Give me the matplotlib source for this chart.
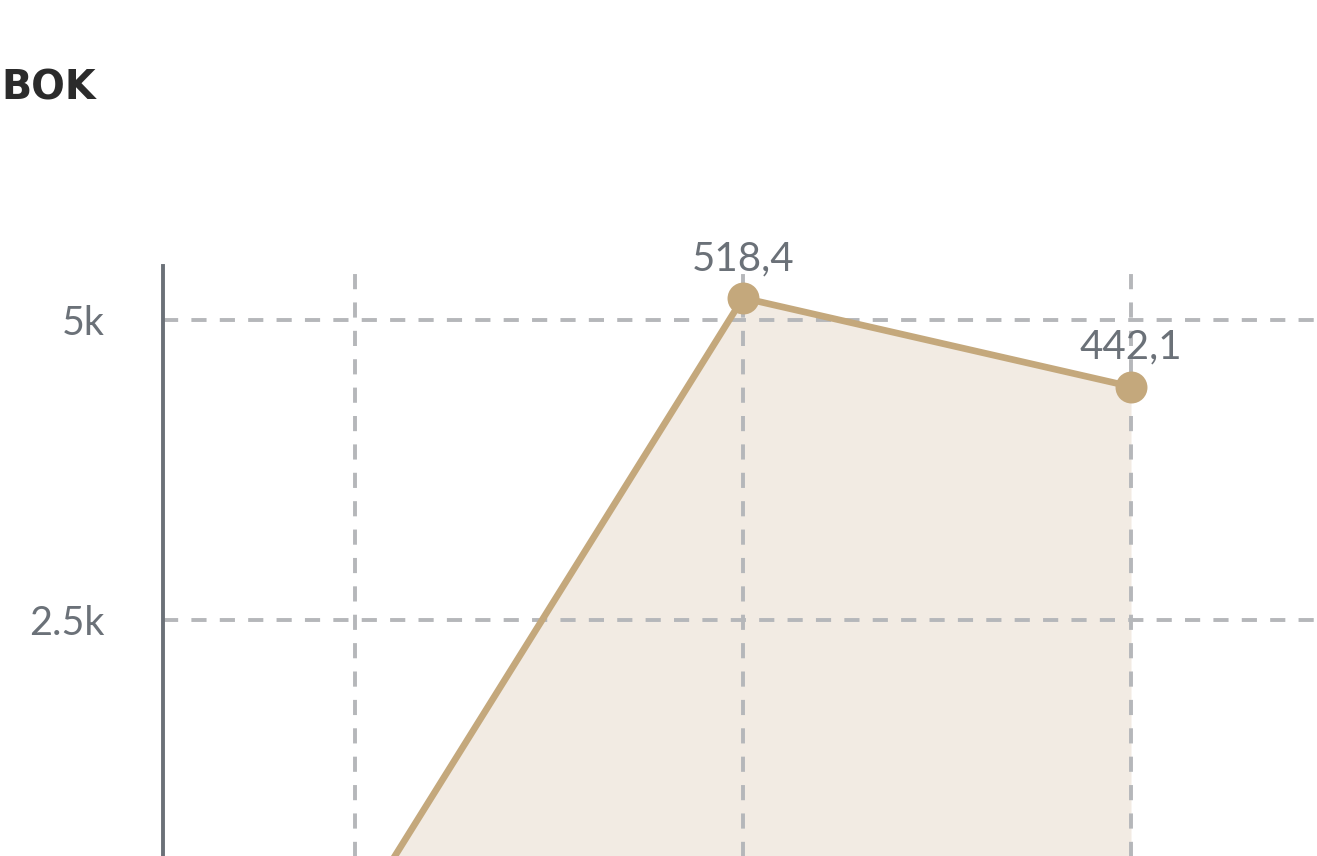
import matplotlib
matplotlib.use("Agg")
import matplotlib.pyplot as plt

# data (visible part of a cropped chart; first point's label is off-canvas)
x_pos = [0, 1, 2]
values = [0, 5184, 4445]
labels = ["", "518,4", "442,1"]
y_ticks = [2500, 5000]
y_ticklabels = ["2.5k", "5k"]
title = "BOK"

LINE = "#c4a87c"
FILL = "#f2ebe3"
GRID = "#b5b7ba"
TEXT = "#6b7178"

W, H = 1317, 856
fig = plt.figure(figsize=(W / 100, H / 100), dpi=100)

# axes extends below the figure (chart is cropped)
left, right, top, zero = 163, 1317, 266, 920
ax = fig.add_axes([left / W, (H - zero) / H, (right - left) / W, (zero - top) / H])
px_per_unit = 300 / 2500
ax.set_ylim(0, (zero - top) / px_per_unit)
ax.set_xlim(-(355 - left) / 388, (right - 355) / 388)

ax.fill_between(x_pos, values, 0, color=FILL, zorder=1, linewidth=0)
ax.plot(x_pos, values, color=LINE, linewidth=4.8, zorder=3,
        marker="o", markersize=23, markeredgewidth=0, clip_on=False)
for x, v, t in zip(x_pos, values, labels):
    if t:
        ax.annotate(t, (x, v), xytext=(0, 15), textcoords="offset points",
                    ha="center", va="bottom", fontsize=29, color=TEXT,
                    family="Lato", zorder=4)

ax.set_yticks(y_ticks)
ax.set_yticklabels(y_ticklabels)
ax.set_xticks(x_pos)
ax.set_xticklabels([])
ax.tick_params(axis="y", length=0, pad=42, labelsize=28.5, labelcolor=TEXT)
ax.tick_params(axis="x", length=0)
for lab in ax.get_yticklabels():
    lab.set_family("Lato")

ax.grid(True, color=GRID, linewidth=2.8, linestyle=(0, (3.9, 3.4)), zorder=2)
ax.set_axisbelow(False)
for s in ["top", "right", "bottom"]:
    ax.spines[s].set_visible(False)
ax.spines["left"].set_color(TEXT)
ax.spines["left"].set_linewidth(2.8)
ax.spines["left"].set_zorder(5)

fig.text(1 / W, (H - 89) / H, title, fontsize=28.5, fontweight="bold",
         color="#2b2b2b", family="DejaVu Sans", va="center", ha="left")

fig.savefig("out.png", dpi=100, facecolor="white")
